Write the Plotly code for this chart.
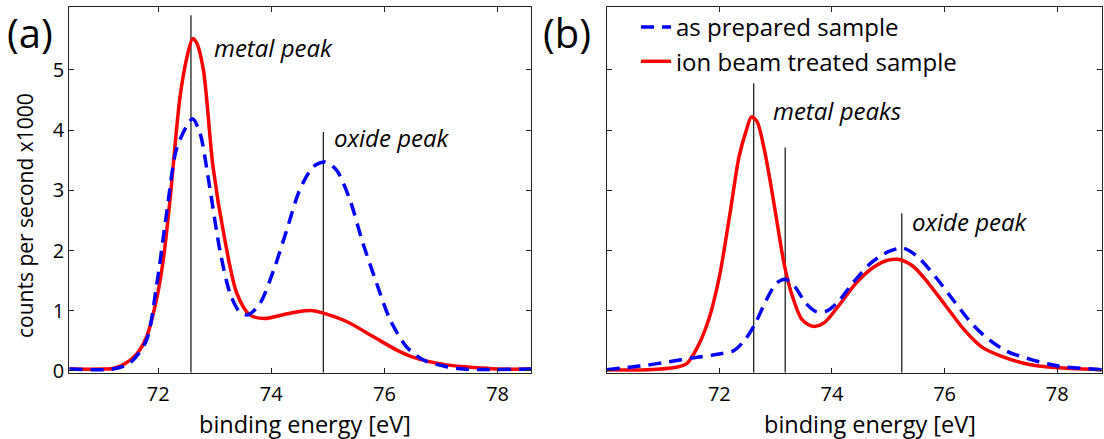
import plotly.graph_objects as go

# ---------------- data ----------------
# panel (a)
a_red_x = [70.43, 71.0, 71.2, 71.38, 71.62, 71.79, 71.97, 72.09, 72.21, 72.38, 72.5, 72.61, 72.68,
           72.8, 72.97, 73.18, 73.39, 73.62, 73.89, 74.15, 74.45, 74.74, 74.92, 75.33, 75.8,
           76.21, 76.5, 77.1, 77.69, 78.0, 78.59]
a_red_y = [0.03, 0.03, 0.04, 0.1, 0.28, 0.55, 1.18, 1.84, 2.84, 4.5, 5.17, 5.52, 5.45,
           5.0, 3.39, 2.17, 1.29, 0.93, 0.87, 0.92, 0.98, 1.0, 0.96, 0.82, 0.57,
           0.35, 0.23, 0.1, 0.05, 0.03, 0.03]
a_blue_x = [70.43, 71.2, 71.5, 71.79, 71.97, 72.15, 72.32, 72.5, 72.61, 72.74, 72.91, 73.09, 73.27,
            73.44, 73.59, 73.8, 74.04, 74.27, 74.5, 74.74, 74.95, 75.15, 75.39, 75.62, 75.86,
            76.1, 76.39, 76.69, 77.1, 77.4, 78.59]
a_blue_y = [0.03, 0.03, 0.13, 0.5, 1.4, 2.62, 3.67, 4.06, 4.19, 3.95, 3.06, 2.01, 1.29,
            0.98, 0.93, 1.12, 1.67, 2.33, 3.0, 3.39, 3.47, 3.34, 2.84, 2.12, 1.46,
            0.85, 0.4, 0.18, 0.07, 0.03, 0.03]
a_peak_x = [72.58, 74.92]
a_peak_top = [5.91, 3.97]

# panel (b)
b_red_x = [70.0, 70.72, 71.23, 71.42, 71.61, 71.81, 72.0, 72.19, 72.35, 72.48, 72.57, 72.67, 72.8,
           72.96, 73.15, 73.28, 73.47, 73.66, 73.85, 74.11, 74.43, 74.75, 75.0, 75.2, 75.45,
           75.71, 76.03, 76.35, 76.67, 76.99, 77.44, 77.89, 78.79]
b_red_y = [0.02, 0.02, 0.06, 0.12, 0.39, 0.85, 1.56, 2.62, 3.56, 4.0, 4.22, 4.14, 3.67,
           2.84, 1.78, 1.29, 0.85, 0.74, 0.79, 1.07, 1.46, 1.73, 1.84, 1.85, 1.73,
           1.46, 1.07, 0.68, 0.39, 0.25, 0.12, 0.06, 0.02]
b_blue_x = [70.0, 70.59, 71.1, 71.55, 72.0, 72.26, 72.45, 72.64, 72.83, 73.02, 73.18, 73.34, 73.54,
            73.73, 73.92, 74.11, 74.37, 74.69, 75.0, 75.26, 75.52, 75.84, 76.16, 76.48, 76.8,
            77.12, 77.57, 78.02, 78.79]
b_blue_y = [0.02, 0.08, 0.15, 0.22, 0.28, 0.34, 0.51, 0.79, 1.17, 1.46, 1.52, 1.4, 1.12,
            0.98, 1.0, 1.15, 1.46, 1.79, 1.98, 2.04, 1.9, 1.56, 1.17, 0.79, 0.51,
            0.32, 0.18, 0.08, 0.02]
b_peak_x = [72.61, 73.17, 75.24]
b_peak_top = [4.78, 3.71, 2.62]

series_names = ["as prepared sample", "ion beam treated sample"]
x_ticks = [72, 74, 76, 78]
y_ticks = [0, 1, 2, 3, 4, 5]
a_labels = ["metal peak", "oxide peak"]
b_labels = ["metal peaks", "oxide peak"]

# ---------------- figure ----------------
W, H = 1104, 439
FONT = "Open Sans"
RED = "#ff0000"
BLUE = "#0000ff"
Y_MIN, Y_MAX = -0.03, 6.04

fig = go.Figure()

def add_panel(xa, ya, bx, by, rx, ry, px, ptop, legend):
    for xv, tv in zip(px, ptop):
        fig.add_trace(go.Scatter(x=[xv, xv], y=[Y_MIN, tv], mode="lines",
                                 line=dict(color="#222222", width=1.3),
                                 xaxis=xa, yaxis=ya, showlegend=False, hoverinfo="skip"))
    fig.add_trace(go.Scatter(x=rx, y=ry, mode="lines", name=series_names[1],
                             line=dict(color=RED, width=3.5, shape="spline", smoothing=0.8),
                             xaxis=xa, yaxis=ya, showlegend=legend, legendrank=2))
    fig.add_trace(go.Scatter(x=bx, y=by, mode="lines", name=series_names[0],
                             line=dict(color=BLUE, width=3.5, dash="13px,8px",
                                       shape="spline", smoothing=0.8),
                             xaxis=xa, yaxis=ya, showlegend=legend, legendrank=1))

add_panel("x", "y", a_blue_x, a_blue_y, a_red_x, a_red_y, a_peak_x, a_peak_top, False)
add_panel("x2", "y2", b_blue_x, b_blue_y, b_red_x, b_red_y, b_peak_x, b_peak_top, True)

axis_common = dict(showgrid=False, zeroline=False, showline=True, linecolor="#222222",
                   linewidth=1.2, mirror="ticks", ticks="inside", ticklen=5,
                   tickcolor="#222222", automargin=False,
                   tickfont=dict(family=FONT, size=20, color="black"))

y_dom = [1 - 372.7 / H, 1 - 7.3 / H]
fig.update_layout(
    width=W, height=H, margin=dict(l=0, r=0, t=0, b=0, pad=0, autoexpand=False),
    plot_bgcolor="white", paper_bgcolor="white",
    font=dict(family=FONT, color="black"),
    xaxis=dict(domain=[69.3 / W, 531 / W], range=[70.43, 78.59], tickvals=x_ticks,
               anchor="y", ticklabelstandoff=3, **axis_common),
    yaxis=dict(domain=y_dom, range=[Y_MIN, Y_MAX], tickvals=y_ticks, anchor="x", **axis_common),
    xaxis2=dict(domain=[606.7 / W, 1101.7 / W], range=[70.0, 78.79], tickvals=x_ticks,
                anchor="y2", ticklabelstandoff=3, **axis_common),
    yaxis2=dict(domain=y_dom, range=[Y_MIN, Y_MAX], tickvals=y_ticks, showticklabels=False,
                anchor="x2", **axis_common),
    legend=dict(x=636 / W, y=1 - 5 / H, xanchor="left", yanchor="top",
                bgcolor="rgba(0,0,0,0)", font=dict(family=FONT, size=24, color="black"),
                traceorder="normal"),
    showlegend=True,
)

ann = []
C = dict(xanchor="center", yanchor="middle", showarrow=False, xref="paper", yref="paper")
# panel letters
ann.append(dict(text="(a)", x=30 / W, y=1 - 32 / H, font=dict(size=40, family=FONT), **C))
ann.append(dict(text="(b)", x=567 / W, y=1 - 32 / H, font=dict(size=40, family=FONT), **C))
# axis titles
ann.append(dict(text="counts per second x1000", x=25 / W, y=1 - 216 / H, textangle=-90,
                font=dict(size=21, family=FONT), **C))
ann.append(dict(text="binding energy [eV]", x=305 / W, y=1 - 423.5 / H,
                font=dict(size=23.5, family=FONT), **C))
ann.append(dict(text="binding energy [eV]", x=870 / W, y=1 - 423.5 / H,
                font=dict(size=23.5, family=FONT), **C))
# peak labels
lab_font = dict(size=24, family=FONT, style="italic")
L = dict(xanchor="left", yanchor="middle", showarrow=False)
ann.append(dict(text=a_labels[0], x=72.96, y=5.38, xref="x", yref="y", font=lab_font, **L))
ann.append(dict(text=a_labels[1], x=75.07, y=3.88, xref="x", yref="y", font=lab_font, **L))
ann.append(dict(text=b_labels[0], x=72.92, y=4.33, xref="x2", yref="y2", font=lab_font, **L))
ann.append(dict(text=b_labels[1], x=75.38, y=2.48, xref="x2", yref="y2", font=lab_font, **L))
fig.update_layout(annotations=ann)

fig.write_html("out.html")
